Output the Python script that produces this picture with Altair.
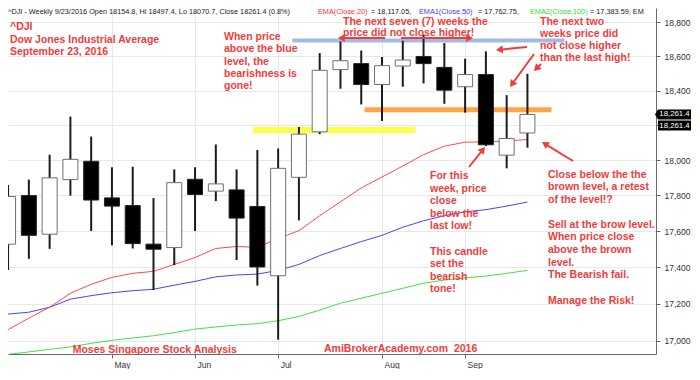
import math
import altair as alt
import pandas as pd

# ---------------- data ----------------
weeks = ["2016-04-01", "2016-04-08", "2016-04-15", "2016-04-22", "2016-04-29",
         "2016-05-06", "2016-05-13", "2016-05-20", "2016-05-27", "2016-06-03",
         "2016-06-10", "2016-06-17", "2016-06-24", "2016-07-01", "2016-07-08",
         "2016-07-15", "2016-07-22", "2016-07-29", "2016-08-05", "2016-08-12",
         "2016-08-19", "2016-08-26", "2016-09-02", "2016-09-09", "2016-09-16",
         "2016-09-23"]
opens = [17528, 17799, 17583, 17889, 17993, 17786, 17743, 17528, 17509, 17891,
         17824, 17831, 17738, 17354, 17902, 18161, 18522, 18557, 18435, 18543,
         18599, 18535, 18422, 18493, 18028, 18154.8]
highs = [17859, 17889, 18030, 18249, 18134, 17959, 17962, 17785, 17947, 17959,
         18089, 17947, 18057, 18066, 18189, 18619, 18687, 18634, 18596, 18691,
         18727, 18678, 18586, 18629, 18373, 18497.4]
lows = [17385, 17447, 17502, 17799, 17601, 17522, 17504, 17276, 17412, 17601,
        17768, 17440, 17300, 17007, 17660, 18148, 18410, 18319, 18224, 18422,
        18441, 18323, 18272, 18080, 17953, 18070.7]
closes = [17794, 17577, 17899, 18004, 17774, 17740, 17531, 17500, 17872, 17805,
          17865, 17673, 17402, 17953, 18148, 18518, 18574, 18435, 18545, 18578,
          18557, 18402, 18493, 18087, 18123, 18261.4]
ema20 = [17061, 17123, 17182, 17258, 17307, 17345, 17367, 17378, 17416, 17454,
         17504, 17515, 17511, 17559, 17603, 17686, 17764, 17842, 17904, 17966,
         18031, 18079, 18102, 18104, 18109, 18117.05]
ema50 = [17145, 17155, 17182, 17226, 17245, 17261, 17272, 17280, 17302, 17323,
         17348, 17358, 17363, 17383, 17416, 17465, 17504, 17542, 17577, 17622,
         17658, 17686, 17708, 17720, 17740, 17762.75]
ema100 = [16928, 16941, 16955, 16968, 16987, 17003, 17016, 17028, 17045, 17064,
          17075, 17086, 17093, 17109, 17132, 17166, 17204, 17231, 17258, 17285,
          17313, 17330, 17342, 17352, 17367, 17383.59]

# analyst's horizontal levels: price, first week index, last week index
level_prices = [18693, 18288, 18172]
level_start = [13.68, 17.16, 11.79]
level_end = [26.78, 26.16, 19.61]

price_ticks = [17000, 17200, 17400, 17600, 17800, 18000, 18200, 18400, 18600, 18800]
month_names = ["Jan", "Feb", "Mar", "Apr", "May", "Jun", "Jul", "Aug", "Sep", "Oct", "Nov", "Dec"]

# ---------------- derived tables ----------------
idx = list(range(len(weeks)))
candles = pd.DataFrame({"week": weeks, "i": idx, "open": opens, "high": highs,
                        "low": lows, "close": closes})
ema_df = pd.DataFrame({"i": idx, "ema20": ema20, "ema50": ema50, "ema100": ema100})
levels = pd.DataFrame({"price": level_prices, "start": level_start, "end": level_end})

month_ticks, month_labels = [], []
for k in range(1, len(weeks)):
    if weeks[k][5:7] != weeks[k - 1][5:7]:
        month_ticks.append(k)
        month_labels.append(month_names[int(weeks[k][5:7]) - 1])
label_expr = " : ".join(f"datum.value == {t} ? '{l}'" for t, l in zip(month_ticks, month_labels)) + " : ''"

last = len(weeks) - 1
# the price label boxes hide the 18,200 axis label, as in the reference
hidden_tick = 18200
y_label_expr = f"datum.value == {hidden_tick} ? '' : format(datum.value, ',d')"

# ---------------- styling ----------------
W, H = 648, 346
X_DOMAIN = [0.237, 30.948]
Y_DOMAIN = [16930, 18886]
FONT = "Liberation Sans"
RED = "#f03c3c"
AX = "#333333"
DOM = "#6a6a6a"
GRID = "#e8e8e8"

xscale = alt.Scale(domain=X_DOMAIN, nice=False, zero=False)
yscale = alt.Scale(type="log", domain=Y_DOMAIN, nice=False, zero=False)
xaxis = alt.Axis(values=month_ticks, labelExpr=label_expr, labelAlign="left", labelOffset=2,
                 labelPadding=2, labelFontSize=8.5, labelColor=AX, labelFont=FONT,
                 tickSize=4, tickColor=DOM, domainColor=DOM, grid=True, gridColor=GRID,
                 labelFlush=False)
yaxis = alt.Axis(orient="right", values=price_ticks, labelExpr=y_label_expr, labelFontSize=8.5,
                 labelColor=AX, labelFont=FONT, tickSize=4, tickColor=DOM, domainColor=DOM,
                 labelPadding=4, grid=True, gridColor=GRID, labelFlush=False)


def X(field):
    return alt.X(f"{field}:Q", scale=xscale, axis=xaxis, title=None)


def Y(field):
    return alt.Y(f"{field}:Q", scale=yscale, axis=yaxis, title=None)


layers = []

# level lines
level_colors = ["#a3bbe2", "#ffa447", "#ffff4a"]
level_widths = [4, 5, 6]
for k in range(len(level_prices)):
    layers.append(
        alt.Chart(levels.iloc[[k]]).mark_rule(color=level_colors[k], strokeWidth=level_widths[k],
                                               strokeCap="butt", clip=True)
        .encode(x=X("start"), x2="end", y=Y("price"))
    )

# EMA lines
for col, colr in [("ema100", "#45e045"), ("ema50", "#4444ff"), ("ema20", "#ff4a4a")]:
    layers.append(
        alt.Chart(ema_df).mark_line(color=colr, strokeWidth=1, clip=True)
        .encode(x=X("i"), y=Y(col))
    )

# candles
up = alt.datum.close >= alt.datum.open
layers.append(
    alt.Chart(candles).mark_rule(color="#1c1c1c", strokeWidth=2, clip=True)
    .encode(x=X("i"), y=Y("low"), y2="high")
)
layers.append(
    alt.Chart(candles).mark_bar(size=15, strokeWidth=1, clip=True)
    .encode(x=X("i"), y=Y("open"), y2="close",
            fill=alt.condition(up, alt.value("white"), alt.value("black")),
            stroke=alt.condition(up, alt.value("#707070"), alt.value("#222222")))
)

dummy = pd.DataFrame({"a": [0]})


# annotation text blocks (plot-pixel positions); "" starts a new paragraph one line lower
def block(lines, x, y, lh, size=10.5, weight="bold", color=RED):
    out, chunk, start = [], [], 0
    for n, ln in enumerate(lines + [""]):
        if ln == "":
            if chunk:
                out.append(alt.Chart(dummy).mark_text(
                    align="left", baseline="alphabetic", font=FONT, fontSize=size,
                    fontWeight=weight, color=color, lineHeight=lh).encode(
                    x=alt.value(x), y=alt.value(y + start * lh), text=alt.value(chunk)))
            chunk, start = [], n + 1
        else:
            chunk.append(ln)
    return out


layers += block(["^DJI", "Dow Jones Industrial Average", "September 23, 2016"], 2, 22, 12.5)
layers += block(["When price", "above the blue", "level, the", "bearishness is", "gone!"], 216, 32, 12.3)
layers += block(["The next seven (7) weeks the", "price did not close higher!"], 335, 16.5, 11.8)
layers += block(["The next two", "weeks price did", "not close higher", "than the last high!"], 532, 16.5, 12)
layers += block(["For this", "week, price", "close", "below the", "last low!", "",
                 "This candle", "set the", "bearish", "tone!"], 422, 171, 12.6)
layers += block(["Close below the the", "brown level, a retest", "of the level!?", "",
                 "Sell at the brow level.", "When price close", "above the brown", "level.",
                 "The Bearish fail.", "", "Manage the Risk!"], 540, 169.5, 12.6)
layers += block(["Moses Singapore Stock Analysis"], 64.7, 345, 12)
layers += block(["AmiBrokerAcademy.com\u00a0 2016"], 316, 344, 12)

# arrows (plot-pixel positions: start -> head)
arrows = [((377, 30), (330, 30)), ((393, 30), (465, 30)), ((519, 39), (488, 42)),
          ((526, 46), (502, 79)), ((533, 56), (526, 63)), ((461, 159), (477, 139)),
          ((565, 153), (534, 134))]
for (x0, y0), (x1, y1) in arrows:
    dx, dy = x1 - x0, y1 - y0
    L = math.hypot(dx, dy)
    ux, uy = dx / L, dy / L
    ang = math.degrees(math.atan2(ux, -uy)) % 360
    cx, cy = x1 - ux * 3.4, y1 - uy * 3.4
    layers.append(alt.Chart(dummy).mark_rule(color=RED, strokeWidth=2).encode(
        x=alt.value(x0), y=alt.value(y0), x2=alt.value(cx), y2=alt.value(cy)))
    layers.append(alt.Chart(dummy).mark_point(shape="triangle-up", filled=True, color=RED,
                                              size=64, angle=ang, opacity=1).encode(
        x=alt.value(cx), y=alt.value(cy)))

# header line
chg = (closes[last] / closes[last - 1] - 1) * 100
mdy = f"{int(weeks[last][5:7])}/{int(weeks[last][8:10])}/{weeks[last][:4]}"
header = [
    (f"^DJI - Weekly {mdy} Open {opens[last]}, Hi {highs[last]}, Lo {lows[last]}, "
     f"Close {closes[last]} ({chg:.1f}%)", "#222222", 0),
    ("EMA(Close,20)", "#ff3030", 310),
    (f"= {ema20[last]:,.2f},", "#222222", 363),
    ("EMA1(Close,50)", "#3c3cff", 411),
    (f"= {ema50[last]:,.2f},", "#222222", 470),
    ("EMA2(Close,100)", "#30e030", 522),
    (f"= {ema100[last]:,.2f}, EM", "#222222", 582),
]
for txt, colr, x in header:
    layers.append(alt.Chart(dummy).mark_text(align="left", baseline="middle", font=FONT,
                                             fontSize=7.3, color=colr, clip=True).encode(
        x=alt.value(x), y=alt.value(3.8), text=alt.value(txt)))

# last price boxes on the right axis
last_txt = f"{closes[last]:,.1f}"
box_x = W + 18.5
layers.append(alt.Chart(dummy).mark_point(shape="M-1.18,0L-1,-0.3L1,-0.3L1,0.3L-1,0.3Z",
                                          size=1089, filled=True, color="black", opacity=1)
              .encode(x=alt.value(box_x), y=alt.Y(datum=closes[last], scale=yscale, axis=yaxis, title=None)))
layers.append(alt.Chart(dummy).mark_text(font=FONT, fontSize=7.8, color="white", align="center",
                                         baseline="middle")
              .encode(x=alt.value(box_x), y=alt.Y(datum=closes[last], scale=yscale, axis=yaxis, title=None),
                      text=alt.value(last_txt)))
layers.append(alt.Chart(dummy).mark_point(shape="M-1,-0.3L1,-0.3L1,0.3L-1,0.3Z",
                                          size=1089, filled=True, color="black", opacity=1)
              .encode(x=alt.value(box_x), y=alt.value(117.5)))
layers.append(alt.Chart(dummy).mark_text(font=FONT, fontSize=7.8, color="white", align="center",
                                         baseline="middle")
              .encode(x=alt.value(box_x), y=alt.value(117.5), text=alt.value(last_txt)))

chart = (alt.layer(*layers)
         .properties(width=W, height=H, padding=0, background="white")
         .configure_view(stroke=None))

chart.save("out.html", embed_options={"renderer": "svg", "actions": False})
